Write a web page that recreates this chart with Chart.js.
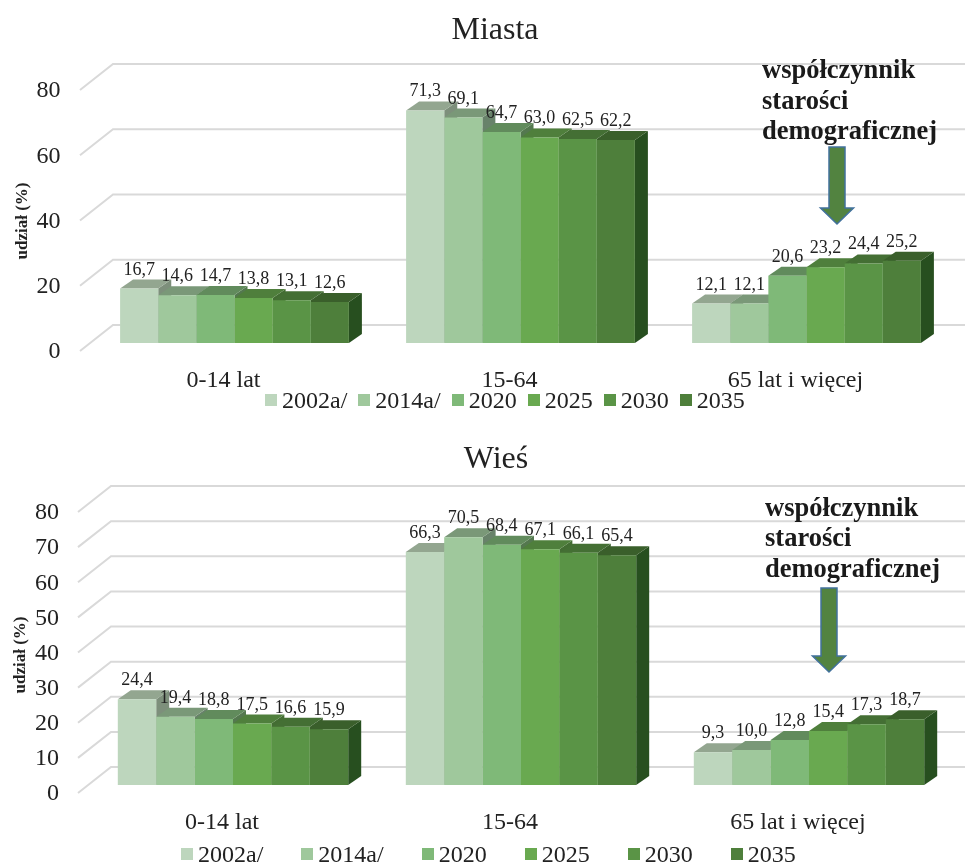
<!DOCTYPE html>
<html lang="pl">
<head>
<meta charset="utf-8">
<title>Miasta / Wieś</title>
<script src="https://cdn.jsdelivr.net/npm/chart.js@4"></script>
<style>
  html, body { margin: 0; padding: 0; background: #fff; }
  body { position: relative; width: 968px; height: 865px; overflow: hidden; }
  canvas { position: absolute; left: 0; }
  .legend { position: absolute; display: flex; align-items: center; font: 24px "Liberation Serif", serif; color: #222; line-height: 28px; white-space: nowrap; }
  .legend span { display: inline-flex; align-items: center; }
  .legend i { display: inline-block; width: 12px; height: 12px; margin-right: 5px; }
</style>
</head>
<body>
<canvas id="miastaChart" width="968" height="430" style="top:0"></canvas>
<canvas id="wiesChart" width="968" height="435" style="top:430px"></canvas>
<div class="legend" id="miastaLegend" style="left:265px;top:386px;gap:11px"></div>
<div class="legend" id="wiesLegend" style="left:181px;top:840px;gap:38px"></div>
<script>
// Data
const categories = ['0-14 lat', '15-64', '65 lat i więcej'];
const seriesNames = ['2002a/', '2014a/', '2020', '2025', '2030', '2035'];

const miasta2002 = [16.7, 71.3, 12.1];
const miasta2014 = [14.6, 69.1, 12.1];
const miasta2020 = [14.7, 64.7, 20.6];
const miasta2025 = [13.8, 63.0, 23.2];
const miasta2030 = [13.1, 62.5, 24.4];
const miasta2035 = [12.6, 62.2, 25.2];

const wies2002 = [24.4, 66.3, 9.3];
const wies2014 = [19.4, 70.5, 10.0];
const wies2020 = [18.8, 68.4, 12.8];
const wies2025 = [17.5, 67.1, 15.4];
const wies2030 = [16.6, 66.1, 17.3];
const wies2035 = [15.9, 65.4, 18.7];

// Colours
const frontColors = ['#bdd6bd', '#9fc89c', '#7fb978', '#69a950', '#5a9446', '#4e7f3b'];
const topColors = ['#93a690', '#7a9878', '#618b5c', '#4f7f3c', '#446f34', '#3a5f2b'];
const sideColors = ['#7d8f7b', '#68826a', '#54784f', '#436d33', '#3a5f2c', '#274f1f'];

const SERIF = '"Liberation Serif", serif';
const annotationLines = ['współczynnik', 'starości', 'demograficznej'];

// Draws the 3D floor/wall, the bar depth, value labels and the arrow note
const depthPlugin = {
  id: 'depth',
  afterLayout(chart) {
    // tick labels sit left of the padded box, do not let the scale clip them
    chart.scales.y.left = 0;
  },
  beforeDatasetsDraw(chart, args, opts) {
    const { ctx, chartArea } = chart;
    const y = chart.scales.y;
    ctx.save();
    // grid: short diagonal on the floor, then along the back wall
    ctx.strokeStyle = '#d9d9d9';
    ctx.lineWidth = 2;
    y.ticks.forEach(t => {
      const py = y.getPixelForValue(t.value);
      ctx.beginPath();
      ctx.moveTo(chartArea.left + opts.floorFront, py + 8);
      ctx.lineTo(chartArea.left + opts.wallX, py - opts.wallY);
      ctx.lineTo(965, py - opts.wallY);
      ctx.stroke();
    });
    // side and top faces, painted left to right
    categories.forEach((c, i) => {
      chart.data.datasets.forEach((ds, d) => {
        const bar = chart.getDatasetMeta(d).data[i];
        const x0 = bar.x - bar.width / 2;
        const x1 = bar.x + bar.width / 2;
        ctx.fillStyle = sideColors[d];
        poly(ctx, [[x1, bar.y], [x1 + opts.dx, bar.y - opts.dy], [x1 + opts.dx, bar.base - opts.dy], [x1, bar.base]]);
        ctx.fillStyle = topColors[d];
        poly(ctx, [[x0, bar.y], [x0 + opts.dx, bar.y - opts.dy], [x1 + opts.dx, bar.y - opts.dy], [x1, bar.y]]);
      });
    });
    ctx.restore();
  },
  afterDatasetsDraw(chart, args, opts) {
    const { ctx } = chart;
    ctx.save();
    // value labels
    ctx.fillStyle = '#222';
    ctx.font = '18px ' + SERIF;
    ctx.textAlign = 'center';
    ctx.textBaseline = 'alphabetic';
    chart.data.datasets.forEach((ds, d) => {
      chart.getDatasetMeta(d).data.forEach((bar, i) => {
        ctx.fillText(ds.data[i].toFixed(1).replace('.', ','), bar.x, bar.y - 14);
      });
    });
    // rotated axis title
    ctx.save();
    ctx.translate(opts.titleX, opts.titleY);
    ctx.rotate(-Math.PI / 2);
    ctx.font = 'bold 17px ' + SERIF;
    ctx.fillText('udział (%)', 0, 0);
    ctx.restore();
    // note
    ctx.font = 'bold 26.5px ' + SERIF;
    ctx.textAlign = 'left';
    ctx.fillStyle = '#1a1a1a';
    annotationLines.forEach((line, i) => {
      ctx.fillText(line, opts.noteX, opts.noteY + i * 30.5);
    });
    // arrow
    const a = opts.arrow;
    ctx.fillStyle = '#528340';
    ctx.strokeStyle = '#41719c';
    ctx.lineWidth = 1.5;
    ctx.beginPath();
    ctx.moveTo(a.x - 8, a.top);
    ctx.lineTo(a.x + 8, a.top);
    ctx.lineTo(a.x + 8, a.neck);
    ctx.lineTo(a.x + 16.5, a.neck);
    ctx.lineTo(a.x, a.tip);
    ctx.lineTo(a.x - 16.5, a.neck);
    ctx.lineTo(a.x - 8, a.neck);
    ctx.closePath();
    ctx.fill();
    ctx.stroke();
    ctx.restore();
  }
};

function poly(ctx, pts) {
  ctx.beginPath();
  pts.forEach((p, i) => i ? ctx.lineTo(p[0], p[1]) : ctx.moveTo(p[0], p[1]));
  ctx.closePath();
  ctx.fill();
}

function makeChart(id, titleText, rows, cfg) {
  return new Chart(document.getElementById(id), {
    type: 'bar',
    data: {
      labels: categories,
      datasets: rows.map((row, d) => ({
        label: seriesNames[d],
        data: row,
        backgroundColor: frontColors[d],
        borderWidth: 0,
        barPercentage: 1,
        categoryPercentage: 0.8
      }))
    },
    options: {
      responsive: false,
      animation: false,
      devicePixelRatio: 1,
      layout: { padding: { left: cfg.padLeft, top: 0, bottom: 0, right: cfg.right } },
      plugins: {
        legend: { display: false },
        tooltip: { enabled: false },
        title: {
          display: true,
          text: titleText,
          color: '#222',
          font: { family: SERIF, size: 32, weight: 'normal' },
          padding: { top: cfg.titleTop, bottom: cfg.titleBottom }
        },
        depth: cfg.depth
      },
      scales: {
        x: {
          grid: { display: false },
          border: { display: false },
          afterFit: s => { s.height = cfg.xHeight; },
          ticks: {
            color: '#222',
            padding: 15,
            labelOffset: -11,
            maxRotation: 0,
            font: { family: SERIF, size: 24 }
          }
        },
        y: {
          min: 0,
          max: 80,
          grid: { display: false },
          border: { display: false },
          afterFit: s => { s.width = cfg.axisWidth; },
          ticks: {
            stepSize: cfg.step,
            color: '#222',
            padding: cfg.tickPad,
            labelOffset: 9,
            font: { family: SERIF, size: 24 }
          }
        }
      }
    },
    plugins: [depthPlugin]
  });
}

function buildLegend(id) {
  const box = document.getElementById(id);
  seriesNames.forEach((name, d) => {
    const item = document.createElement('span');
    const swatch = document.createElement('i');
    swatch.style.background = frontColors[d];
    item.appendChild(swatch);
    item.appendChild(document.createTextNode(name));
    box.appendChild(item);
  });
}

makeChart('miastaChart', 'Miasta',
  [miasta2002, miasta2014, miasta2020, miasta2025, miasta2030, miasta2035],
  {
    padLeft: 40.5, axisWidth: 51, right: 18.5, titleTop: 11.6, titleBottom: 32.0, xHeight: 87, step: 20, tickPad: 23,
    depth: {
      dx: 13, dy: 9, floorFront: -11.5, wallX: 21.5, wallY: 18,
      titleX: 27, titleY: 221, noteX: 762, noteY: 78,
      arrow: { x: 837, top: 147, neck: 208, tip: 224 }
    }
  });

makeChart('wiesChart', 'Wieś',
  [wies2002, wies2014, wies2020, wies2025, wies2030, wies2035],
  {
    padLeft: 39, axisWidth: 50, right: 15, titleTop: 10.6, titleBottom: 25.0, xHeight: 80, step: 10, tickPad: 22,
    depth: {
      dx: 13, dy: 9, floorFront: -11, wallX: 22, wallY: 18,
      titleX: 25, titleY: 225, noteX: 765, noteY: 85.5,
      arrow: { x: 829, top: 158, neck: 226, tip: 242 }
    }
  });

buildLegend('miastaLegend');
buildLegend('wiesLegend');
</script>
</body>
</html>
